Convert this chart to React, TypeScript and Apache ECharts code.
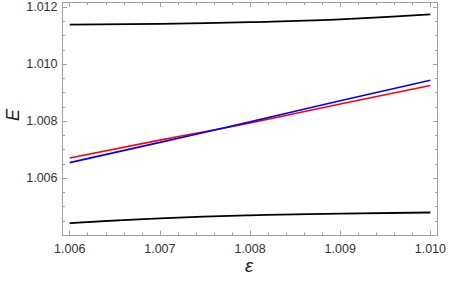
import React, { useEffect, useRef } from "react";
import * as echarts from "echarts";

const epsValues = [1.006, 1.007, 1.008, 1.009, 1.01];
const upperBlack = [1.01138, 1.01141, 1.01147, 1.01157, 1.01174];
const redCurve = [1.0067, 1.00733, 1.00793, 1.0086, 1.00925];
const blueCurve = [1.00654, 1.00725, 1.00797, 1.00871, 1.00943];
const lowerBlack = [1.004415, 1.00458, 1.00469, 1.004748, 1.00479];

const xMajorTicks = [1.006, 1.007, 1.008, 1.009, 1.01];
const yMajorTicks = [1.006, 1.008, 1.01, 1.012];

const X_MIN = 1.00592;
const X_MAX = 1.01008;
const Y_MIN = 1.004;
const Y_MAX = 1.01216;

function minorTicks(start: number, end: number, step: number, majors: number[]) {
  const out: number[] = [];
  const n = Math.round((end - start) / step);
  for (let i = 0; i <= n; i++) {
    const v = +(start + i * step).toFixed(6);
    if (!majors.some((m) => Math.abs(m - v) < 1e-9)) out.push(v);
  }
  return out;
}

const xMinor = minorTicks(1.006, 1.01, 0.0002, xMajorTicks);
const yMinor = minorTicks(1.0045, 1.012, 0.0005, yMajorTicks);

const pair = (ys: number[]) => epsValues.map((x, i) => [x, ys[i]]);

export default function App() {
  const ref = useRef<HTMLDivElement>(null);
  useEffect(() => {
    if (!ref.current) return;
    const chart = echarts.init(ref.current, undefined, { renderer: "svg" });
    const frameColor = "#a0a0a0";
    const labelStyle = { color: "#333", fontSize: 12.5, fontFamily: "Liberation Sans, Arial, sans-serif" };
    const mkX = (pos: "bottom" | "top", ticks: number[], len: number, labels: boolean, line: boolean) => ({
      type: "value",
      position: pos,
      min: X_MIN,
      max: X_MAX,
      splitLine: { show: false },
      axisLine: { show: line, onZero: false, lineStyle: { color: frameColor, width: 1 } },
      axisTick: { show: true, inside: true, length: len, customValues: ticks, lineStyle: { color: frameColor, width: 1 } },
      axisLabel: {
        show: labels,
        customValues: ticks,
        formatter: (v: number) => v.toFixed(3),
        margin: 7,
        ...labelStyle,
      },
    });
    const mkY = (pos: "left" | "right", ticks: number[], len: number, labels: boolean, line: boolean) => ({
      type: "value",
      position: pos,
      min: Y_MIN,
      max: Y_MAX,
      splitLine: { show: false },
      axisLine: { show: line, onZero: false, lineStyle: { color: frameColor, width: 1 } },
      axisTick: { show: true, inside: true, length: len, customValues: ticks, lineStyle: { color: frameColor, width: 1 } },
      axisLabel: {
        show: labels,
        customValues: ticks,
        formatter: (v: number) => v.toFixed(3),
        margin: 5,
        ...labelStyle,
      },
    });
    const lineSeries = (data: number[][], color: string, width: number) => ({
      type: "line",
      data,
      xAxisIndex: 0,
      yAxisIndex: 0,
      smooth: 0.5,
      showSymbol: false,
      symbol: "none",
      lineStyle: { color, width },
      silent: true,
    });
    chart.setOption({
      animation: false,
      grid: { left: 62.5, right: 9, top: 2.5, bottom: 46, containLabel: false },
      xAxis: [
        mkX("bottom", xMajorTicks, 4.5, true, true),
        mkX("bottom", xMinor, 2.5, false, false),
        mkX("top", xMajorTicks, 4.5, false, true),
        mkX("top", xMinor, 2.5, false, false),
      ],
      yAxis: [
        mkY("left", yMajorTicks, 4.5, true, true),
        mkY("left", yMinor, 2.5, false, false),
        mkY("right", yMajorTicks, 4.5, false, true),
        mkY("right", yMinor, 2.5, false, false),
      ],
      series: [
        lineSeries(pair(upperBlack), "#000000", 1.8),
        lineSeries(pair(redCurve), "#ff0000", 1.6),
        lineSeries(pair(blueCurve), "#0000ff", 1.6),
        lineSeries(pair(lowerBlack), "#000000", 1.8),
      ],
      graphic: [
        {
          type: "text",
          left: 4,
          top: 109,
          rotation: Math.PI / 2,
          style: {
            text: "E",
            fontSize: 18,
            fontStyle: "italic",
            fontFamily: "Liberation Sans, Arial, sans-serif",
            fill: "#222",
          },
        },
        {
          type: "text",
          left: 245,
          top: 256,
          style: {
            text: "ε",
            fontSize: 19,
            fontStyle: "italic",
            fontFamily: "Liberation Sans, Arial, sans-serif",
            fill: "#222",
          },
        },
      ],
    });
    return () => chart.dispose();
  }, []);
  return <div ref={ref} style={{ width: 449, height: 281, position: "absolute", left: 0, top: 0 }} />;
}
